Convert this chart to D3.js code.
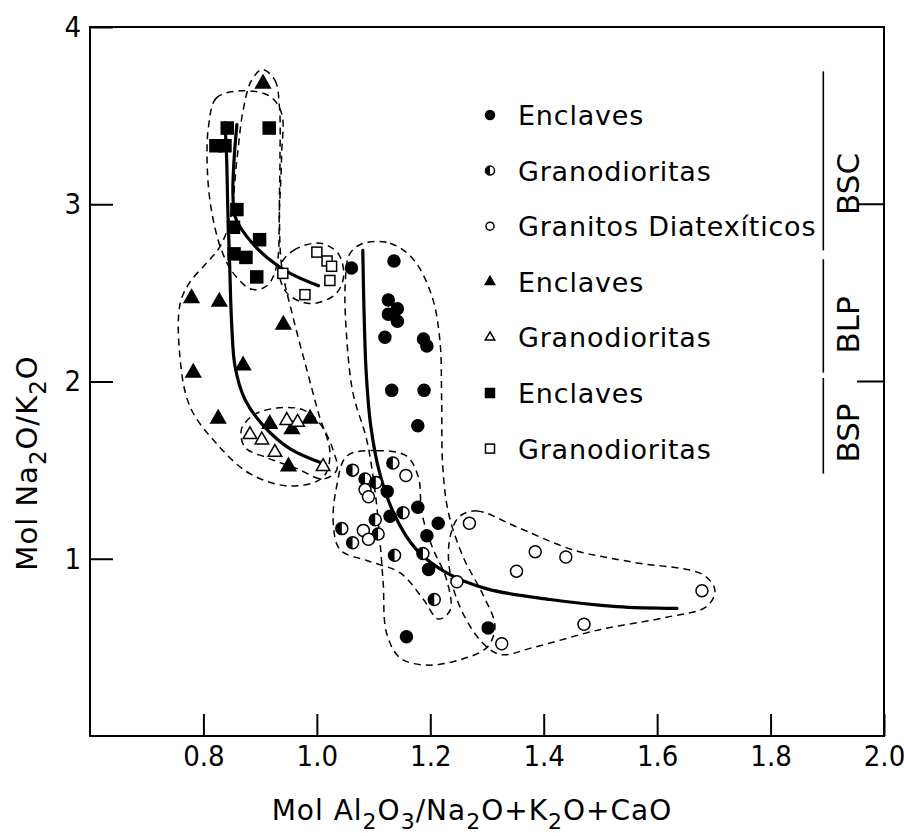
<!DOCTYPE html>
<html>
<head>
<meta charset="utf-8">
<script src="https://cdn.jsdelivr.net/npm/d3@7"></script>
<style>
body { margin: 0; background: #fff; }
svg { display: block; background: #fff; }
</style>
</head>
<body>
<svg id="chart" width="904" height="833"></svg>
<script>
// axis ticks
const xTicks = [0.8, 1.0, 1.2, 1.4, 1.6, 1.8, 2.0];
const xTickLabels = ["0.8", "1.0", "1.2", "1.4", "1.6", "1.8", "2.0"];
const yTicks = [1, 2, 3, 4];
const yTickLabels = ["1", "2", "3", "4"];
const rightTicks = [2, 3];

// BSP group (circles)
const enclavesBSP = [[1.061,2.64],[1.136,2.68],[1.126,2.46],[1.142,2.41],[1.126,2.38],[1.142,2.34],
  [1.120,2.25],[1.188,2.24],[1.194,2.20],[1.132,1.95],[1.189,1.95],[1.178,1.75],[1.178,1.29],
  [1.129,1.24],[1.124,1.38],[1.214,1.20],[1.194,1.13],[1.197,0.94],[1.302,0.61],[1.158,0.56]];
const granodioritasBSP = [[1.063,1.50],[1.134,1.54],[1.085,1.45],[1.104,1.43],[1.152,1.26],[1.103,1.22],
  [1.108,1.14],[1.044,1.17],[1.063,1.09],[1.137,1.02],[1.207,0.77],[1.187,1.03]];
const granitosDiatex = [[1.157,1.47],[1.085,1.39],[1.091,1.35],[1.082,1.16],[1.091,1.11],[1.269,1.20],
  [1.385,1.04],[1.439,1.01],[1.352,0.93],[1.247,0.87],[1.471,0.63],[1.326,0.52],[1.679,0.82]];

// BLP group (triangles)
const enclavesBLP = [[0.905,3.68],[0.779,2.47],[0.828,2.45],[0.941,2.32],[0.870,2.09],[0.782,2.05],
  [0.826,1.79],[0.917,1.76],[0.956,1.73],[0.988,1.79],[0.950,1.52]];
const granodioritasBLP = [[0.882,1.70],[0.903,1.67],[0.926,1.60],[0.947,1.78],[0.966,1.77],[1.011,1.52]];

// BSC group (squares)
const enclavesBSC = [[0.842,3.43],[0.822,3.33],[0.838,3.33],[0.916,3.43],[0.859,2.97],[0.853,2.87],
  [0.899,2.80],[0.854,2.72],[0.875,2.70],[0.894,2.59]];
const granodioritasBSC = [[1.000,2.73],[1.018,2.68],[1.026,2.65],[1.023,2.57],[0.979,2.49],[0.940,2.61]];

// trend curves
const curveBSC = [[0.859,3.45],[0.854,3.25],[0.852,3.06],[0.856,2.93],[0.876,2.82],[0.912,2.70],[0.953,2.61],[1.003,2.54]];
const curveBLP = [[0.838,3.46],[0.841,3.25],[0.843,2.97],[0.846,2.69],[0.850,2.31],[0.856,2.08],[0.873,1.90],
  [0.906,1.75],[0.953,1.62],[1.009,1.54]];
const curveBSP = [[1.081,2.74],[1.083,2.42],[1.087,2.05],[1.095,1.75],[1.111,1.48],[1.138,1.24],[1.176,1.05],
  [1.229,0.92],[1.300,0.83],[1.411,0.77],[1.529,0.73],[1.635,0.72]];

// dashed fields
const fieldSqEnc = [[0.865,3.64],[0.823,3.60],[0.809,3.44],[0.807,3.19],[0.815,2.95],[0.832,2.74],[0.853,2.61],
  [0.885,2.52],[0.912,2.54],[0.929,2.65],[0.934,2.97],[0.938,3.29],[0.938,3.51],[0.917,3.61]];
const fieldTriEnc = [[0.904,3.76],[0.926,3.70],[0.934,3.55],[0.935,3.25],[0.934,2.93],[0.938,2.65],[0.959,2.35],
  [0.982,2.07],[1.003,1.82],[1.023,1.60],[1.011,1.46],[0.953,1.41],[0.882,1.48],[0.823,1.65],[0.776,1.86],
  [0.758,2.16],[0.759,2.44],[0.776,2.56],[0.806,2.67],[0.829,2.76],[0.847,2.91],[0.859,3.25],[0.870,3.53],[0.885,3.70]];
const fieldTriGra = [[0.867,1.73],[0.888,1.81],[0.929,1.85],[0.976,1.84],[1.006,1.76],[1.029,1.61],[1.035,1.50],
  [1.011,1.45],[0.964,1.51],[0.912,1.57],[0.873,1.63]];
const fieldSqGra = [[0.934,2.64],[0.959,2.74],[1.006,2.78],[1.038,2.72],[1.047,2.59],[1.032,2.49],[0.988,2.44],[0.947,2.50]];
const fieldCircEnc = [[1.082,2.78],[1.129,2.78],[1.170,2.69],[1.203,2.48],[1.217,2.23],[1.220,1.90],[1.222,1.52],
  [1.232,1.26],[1.258,1.01],[1.294,0.79],[1.314,0.62],[1.300,0.50],[1.252,0.43],[1.194,0.40],[1.147,0.44],
  [1.123,0.58],[1.117,0.86],[1.111,1.11],[1.103,1.37],[1.088,1.67],[1.064,1.93],[1.053,2.23],[1.050,2.55],[1.058,2.72]];
const fieldCircGra = [[1.053,1.58],[1.106,1.61],[1.158,1.58],[1.179,1.46],[1.185,1.26],[1.203,1.07],[1.229,0.88],
  [1.235,0.71],[1.214,0.66],[1.188,0.77],[1.147,0.92],[1.088,0.99],[1.041,1.05],[1.029,1.20],[1.035,1.41]];
const fieldGranitos = [[1.252,1.24],[1.282,1.27],[1.352,1.18],[1.452,1.05],[1.558,0.98],[1.681,0.91],[1.702,0.82],
  [1.687,0.73],[1.617,0.67],[1.499,0.60],[1.382,0.50],[1.323,0.46],[1.288,0.54],[1.247,0.77],[1.232,1.01],[1.238,1.16]];

// legend and side labels
const legendLabels = ["Enclaves", "Granodioritas", "Granitos Diatexíticos", "Enclaves", "Granodioritas", "Enclaves", "Granodioritas"];
const legendSymbols = ["dot", "half", "ring", "tri", "triOpen", "sq", "sqOpen"];
const groupLabels = ["BSC", "BLP", "BSP"];

const svg = d3.select("#chart");
const x = d3.scaleLinear().domain([0.6, 2.0]).range([90, 884]);
const y = d3.scaleLinear().domain([0, 4]).range([736, 27]);

const tickFont = "'DejaVu Sans Condensed', 'DejaVu Sans', sans-serif";
const textFont = "'DejaVu Sans', sans-serif";

// frame
svg.append("rect").attr("x", x(0.6)).attr("y", y(4))
	.attr("width", x(2.0) - x(0.6)).attr("height", y(0) - y(4))
	.style("fill", "none").style("stroke", "black").style("stroke-width", "2px");

// x axis
const gx = svg.append("g").attr("transform", "translate(0," + y(0) + ")")
	.call(d3.axisBottom(x).tickValues(xTicks).tickFormat((d, i) => xTickLabels[i])
		.tickSizeInner(-22).tickSizeOuter(0).tickPadding(9));
gx.select(".domain").remove();
gx.selectAll("line").style("stroke", "black").style("stroke-width", "2px");
gx.selectAll("text").style("font-family", tickFont).style("font-size", "29px").style("fill", "black");

// y axis
const gy = svg.append("g").attr("transform", "translate(" + x(0.6) + ",0)")
	.call(d3.axisLeft(y).tickValues(yTicks).tickFormat((d, i) => yTickLabels[i])
		.tickSizeInner(-23).tickSizeOuter(0).tickPadding(9));
gy.select(".domain").remove();
gy.selectAll("line").style("stroke", "black").style("stroke-width", "2px");
gy.selectAll("text").style("font-family", tickFont).style("font-size", "29px").style("fill", "black");

// right side ticks
svg.selectAll(".rtick").data(rightTicks).enter().append("line")
	.attr("x1", x(2.0) - 27).attr("x2", x(2.0))
	.attr("y1", d => y(d)).attr("y2", d => y(d))
	.style("stroke", "black").style("stroke-width", "2px");

// axis titles
const xt = svg.append("text").attr("x", 472).attr("y", 820).attr("text-anchor", "middle")
	.style("font-family", textFont).style("font-size", "28px").style("letter-spacing", "1px");
[["Mol Al", 0], ["2", 1], ["O", -1], ["3", 1], ["/Na", -1], ["2", 1], ["O+K", -1], ["2", 1], ["O+CaO", -1]]
	.forEach(p => {
		xt.append("tspan").text(p[0]).attr("dy", p[1] * 9)
			.style("font-size", p[1] > 0 ? "22px" : "28px");
	});

const yt = svg.append("text").attr("transform", "translate(37,463) rotate(-90)").attr("text-anchor", "middle")
	.style("font-family", textFont).style("font-size", "29px").style("letter-spacing", "1px");
[["Mol Na", 0], ["2", 1], ["O/K", -1], ["2", 1], ["O", -1]]
	.forEach(p => {
		yt.append("tspan").text(p[0]).attr("dy", p[1] * 9)
			.style("font-size", p[1] > 0 ? "23px" : "29px");
	});

// dashed fields
const closed = d3.line().x(d => x(d[0])).y(d => y(d[1])).curve(d3.curveCatmullRomClosed.alpha(0.5));
[fieldSqEnc, fieldTriEnc, fieldTriGra, fieldSqGra, fieldCircEnc, fieldCircGra, fieldGranitos].forEach(f => {
	svg.append("path").attr("d", closed(f))
		.style("fill", "none").style("stroke", "black").style("stroke-width", "1.5px")
		.style("stroke-dasharray", "7,5");
});

// trend curves
const open = d3.line().x(d => x(d[0])).y(d => y(d[1])).curve(d3.curveCatmullRom.alpha(0.5));
[curveBSC, curveBLP, curveBSP].forEach(c => {
	svg.append("path").attr("d", open(c))
		.style("fill", "none").style("stroke", "black").style("stroke-width", "3.2px")
		.style("stroke-linecap", "round");
});

// markers
function marker(g, type, s) {
	const sw = "1.5px";
	if (type == "dot" || type == "ring" || type == "half") {
		g.append("circle").attr("r", s / 2)
			.style("fill", type == "dot" ? "black" : "white").style("stroke", "black").style("stroke-width", sw);
		if (type == "half") {
			g.append("path").attr("d", d3.arc()({innerRadius: 0, outerRadius: s / 2, startAngle: Math.PI, endAngle: 2 * Math.PI}))
				.style("fill", "black");
		}
	} else if (type == "tri" || type == "triOpen") {
		g.append("path").attr("d", d3.symbol().type(d3.symbolTriangle).size(Math.sqrt(3) / 4 * s * s * 1.1)())
			.style("fill", type == "tri" ? "black" : "white").style("stroke", "black").style("stroke-width", sw)
			.style("stroke-linejoin", "miter");
	} else {
		g.append("rect").attr("x", -s / 2).attr("y", -s / 2).attr("width", s).attr("height", s)
			.style("fill", type == "sq" ? "black" : "white").style("stroke", "black").style("stroke-width", sw);
	}
}

const series = [
	[enclavesBSP, "dot", 12], [granodioritasBSP, "half", 12], [granitosDiatex, "ring", 12],
	[enclavesBLP, "tri", 14], [granodioritasBLP, "triOpen", 13],
	[enclavesBSC, "sq", 12], [granodioritasBSC, "sqOpen", 10]
];
series.forEach(s => {
	svg.append("g").selectAll("g").data(s[0]).enter().append("g")
		.attr("transform", d => "translate(" + x(d[0]) + "," + y(d[1]) + ")")
		.each(function () { marker(d3.select(this), s[1], s[2]); });
});

// legend
const lg = svg.append("g").attr("transform", "translate(490,115)");
legendLabels.forEach((t, i) => {
	const row = lg.append("g").attr("transform", "translate(0," + (i * 55.6) + ")");
	marker(row.append("g"), legendSymbols[i], legendSymbols[i] == "ring" ? 8 : 9);
	row.append("text").attr("x", 28).attr("y", 10).text(t)
		.style("font-family", textFont).style("font-size", "27px").style("letter-spacing", "0.8px");
});

// group bracket on the right
const bracketSegs = [[3.75, 2.74], [2.69, 2.05], [2.02, 1.48]];
svg.selectAll(".br").data(bracketSegs).enter().append("line")
	.attr("x1", x(1.893)).attr("x2", x(1.893))
	.attr("y1", d => y(d[0])).attr("y2", d => y(d[1]))
	.style("stroke", "black").style("stroke-width", "1.6px");
const groupY = [184, 325, 433];
groupLabels.forEach((t, i) => {
	svg.append("text").attr("transform", "translate(859," + groupY[i] + ") rotate(-90)")
		.attr("text-anchor", "middle").text(t)
		.style("font-family", textFont).style("font-size", "31px");
});
</script>
</body>
</html>
